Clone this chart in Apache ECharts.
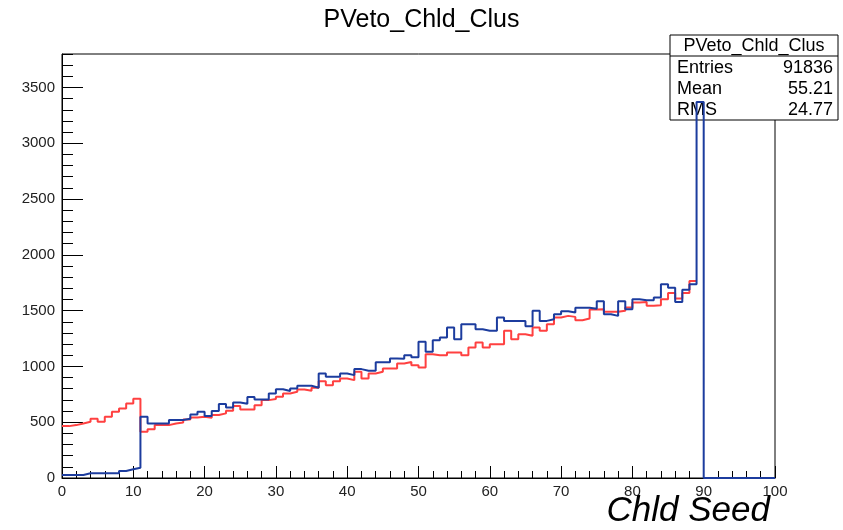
<!DOCTYPE html>
<html>
<head>
<meta charset="utf-8">
<script src="https://cdn.jsdelivr.net/npm/echarts@6/dist/echarts.min.js"></script>
<style>html,body{margin:0;padding:0;background:#fff}#c{width:843px;height:530px}</style>
</head>
<body>
<div id="c"></div>
<script>
// Bin lower edges 0..100 (bin width 1)
const binEdges = Array.from({length: 101}, (_, i) => i);
const xTicks = [0, 10, 20, 30, 40, 50, 60, 70, 80, 90, 100];
const yTicks = [0, 500, 1000, 1500, 2000, 2500, 3000, 3500];

const blueCounts = [
  27, 27, 27, 42, 42, 42, 42, 42, 63, 78,
  92, 549, 489, 489, 489, 519, 519, 531, 570, 594,
  555, 600, 663, 631, 677, 665, 725, 704, 704, 758,
  796, 779, 802, 826, 826, 809, 937, 907, 907, 937,
  922, 976, 961, 961, 1038, 1038, 1071, 1068, 1100, 1082,
  1220, 1131, 1235, 1259, 1349, 1244, 1379, 1379, 1334, 1319,
  1319, 1438, 1408, 1408, 1408, 1361, 1498, 1408, 1423, 1468,
  1495, 1483, 1525, 1525, 1516, 1584, 1468, 1453, 1584, 1513,
  1602, 1593, 1593, 1617, 1736, 1706, 1578, 1688, 1736, 3370,
  0, 0, 0, 0, 0, 0, 0, 0, 0, 0
];

// red bins 89+ are hidden under the blue histogram in the reference (unknown)
const redCounts = [
  465, 474, 489, 504, 531, 504, 549, 594, 623, 668,
  710, 415, 436, 474, 474, 489, 498, 525, 543, 549,
  540, 564, 579, 603, 645, 615, 615, 653, 698, 707,
  728, 758, 773, 794, 782, 809, 868, 832, 868, 892,
  877, 952, 892, 937, 952, 982, 982, 1026, 1040, 1011,
  990, 1110, 1101, 1101, 1125, 1125, 1101, 1170, 1214, 1170,
  1199, 1199, 1319, 1244, 1289, 1274, 1349, 1319, 1379, 1438,
  1453, 1444, 1414, 1430, 1510, 1513, 1489, 1489, 1498, 1528,
  1572, 1578, 1543, 1549, 1602, 1658, 1608, 1658, 1766
];

const statsTitle = 'PVeto_Chld_Clus';
const statsNames = ['Entries', 'Mean', 'RMS'];
const statsValues = ['91836', '55.21', '24.77'];

function stepData(counts) {
  const d = counts.map((v, i) => [binEdges[i], v]);
  d.push([binEdges[counts.length], counts[counts.length - 1]]);
  return d;
}

const FONT = 'Liberation Sans, Arial, Helvetica, sans-serif';
const chart = echarts.init(document.getElementById('c'), null, {renderer: 'canvas'});

const graphics = [
  {type: 'rect', z: 3, shape: {x: 670, y: 35, width: 168, height: 85},
   style: {fill: '#fff', stroke: '#000', lineWidth: 1}},
  {type: 'line', z: 3, shape: {x1: 670, y1: 56, x2: 838, y2: 56},
   style: {stroke: '#000', lineWidth: 1}},
  {type: 'text', z: 3, x: 754, y: 46,
   style: {text: statsTitle, fill: '#000', font: '18px ' + FONT, textAlign: 'center', textVerticalAlign: 'middle'}},
  {type: 'text', z: 3, x: 770, y: 511,
   style: {text: 'Chld Seed', fill: '#000', font: 'italic 35px ' + FONT, textAlign: 'right', textVerticalAlign: 'middle'}}
];
statsNames.forEach((n, i) => {
  const y = 68 + i * 21;
  graphics.push({type: 'text', z: 3, x: 677, y: y,
    style: {text: n, fill: '#000', font: '18px ' + FONT, textAlign: 'left', textVerticalAlign: 'middle'}});
  graphics.push({type: 'text', z: 3, x: 833, y: y,
    style: {text: statsValues[i], fill: '#000', font: '18px ' + FONT, textAlign: 'right', textVerticalAlign: 'middle'}});
});

chart.setOption({
  animation: false,
  backgroundColor: '#fff',
  title: {
    text: 'PVeto_Chld_Clus', left: 'center', top: 3,
    textStyle: {fontFamily: FONT, fontSize: 25, fontWeight: 'normal', color: '#000'}
  },
  grid: {left: 62, right: 68, top: 54, bottom: 52, show: true, borderColor: '#000', borderWidth: 1,
    backgroundColor: 'transparent', containLabel: false, outerBoundsMode: 'none'},
  xAxis: {
    type: 'value', min: 0, max: 100, interval: 10,
    axisLine: {show: true, onZero: false, lineStyle: {color: '#000', width: 1}},
    axisTick: {show: true, inside: true, length: 12, lineStyle: {color: '#000'}},
    minorTick: {show: true, splitNumber: 5, length: 7, lineStyle: {color: '#000'}},
    axisLabel: {fontFamily: FONT, fontSize: 15, color: '#222', margin: 6,
      formatter: v => xTicks.includes(v) ? String(v) : ''},
    splitLine: {show: false}
  },
  yAxis: [{
    type: 'value', min: 0, max: 3800, interval: 500,
    axisLine: {show: true, onZero: false, lineStyle: {color: '#000', width: 1}},
    axisTick: {show: true, inside: true, length: 21, lineStyle: {color: '#000'}},
    axisLabel: {fontFamily: FONT, fontSize: 15, color: '#222', margin: 7, showMaxLabel: false,
      formatter: v => yTicks.includes(v) ? String(v) : ''},
    splitLine: {show: false}
  }, {
    type: 'value', min: 0, max: 3800, interval: 100, position: 'left',
    axisLine: {show: false},
    axisTick: {show: true, inside: true, length: 11, lineStyle: {color: '#000'}},
    axisLabel: {show: false},
    splitLine: {show: false}
  }],
  graphic: graphics,
  series: [{
    type: 'line', name: 'red', step: 'end', showSymbol: false, symbol: 'none', z: 2,
    data: stepData(redCounts), lineStyle: {color: '#ff4040', width: 2}
  }, {
    type: 'line', name: 'blue', step: 'end', showSymbol: false, symbol: 'none', z: 5,
    data: stepData(blueCounts), lineStyle: {color: '#1c3c9e', width: 2}
  }]
});
</script>
</body>
</html>
